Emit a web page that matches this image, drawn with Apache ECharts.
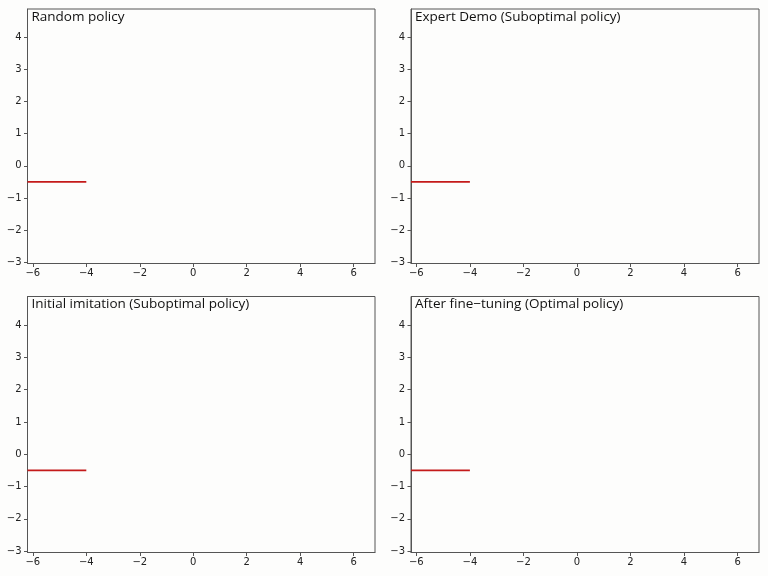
<!DOCTYPE html>
<html><head><meta charset="utf-8">
<script src="https://cdn.jsdelivr.net/npm/echarts@6/dist/echarts.min.js"></script>
<style>html,body{margin:0;padding:0;background:#fdfdfc}#c{width:768px;height:576px}</style>
</head><body><div id="c"></div>
<script>
const titles = ["Random policy","Expert Demo (Suboptimal policy)","Initial imitation (Suboptimal policy)","After fine\u2212tuning (Optimal policy)"];
const lineX = [-6.2, -4];
const lineY = [-0.5, -0.5];
const xTicks = [-6,-4,-2,0,2,4,6];
const yTicks = [-3,-2,-1,0,1,2,3,4];
const xMin = -6.2, xMax = 6.8, yMin = -3.04, yMax = 4.88;

const grids = [
  {left:27.5, top:9, width:347.5, height:254.5},
  {left:411, top:9, width:348, height:254.5},
  {left:27.5, top:296.5, width:347.5, height:256},
  {left:411, top:296.5, width:348, height:256}
];
const fmt = v => String(v).replace('-', '\u2212');
const axisLine = {show:true, onZero:false, lineStyle:{color:'#555', width:1}};
const option = {
  backgroundColor:'#fdfdfc',
  animation:false,
  grid: grids.map(g => Object.assign({containLabel:false, show:true, borderColor:'#555', borderWidth:1}, g)),
  xAxis: grids.map((g,i)=>({type:'value', gridIndex:i, min:xMin, max:xMax,
    axisLine:axisLine, axisTick:{show:true, length:3.5, lineStyle:{color:'#555'},
    customValues:xTicks}, splitLine:{show:false},
    axisLabel:{fontSize:10, color:'#222', margin:5, fontFamily:'DejaVu Sans', formatter:fmt, customValues:xTicks}})),
  yAxis: grids.map((g,i)=>({type:'value', gridIndex:i, min:yMin, max:yMax,
    axisLine:axisLine, axisTick:{show:true, length:3.5, lineStyle:{color:'#555'}, customValues:yTicks}, splitLine:{show:false},
    axisLabel:{fontSize:10, color:'#222', margin:6, fontFamily:'DejaVu Sans', formatter:fmt, customValues:yTicks}})),
  title: grids.map((g,i)=>({text:titles[i], left:g.left-1, top:g.top-4,
    textStyle:{fontSize:13.5, fontWeight:'normal', color:'#111', fontFamily:'Open Sans'}})),
  series: grids.map((g,i)=>({type:'line', xAxisIndex:i, yAxisIndex:i, showSymbol:false, symbol:'none',
    data: lineX.map((x,k)=>[x, lineY[k]]), lineStyle:{color:'#c41a1a', width:1.6}}))
};
echarts.init(document.getElementById('c'), null, {renderer:'canvas'}).setOption(option);
</script></body></html>
